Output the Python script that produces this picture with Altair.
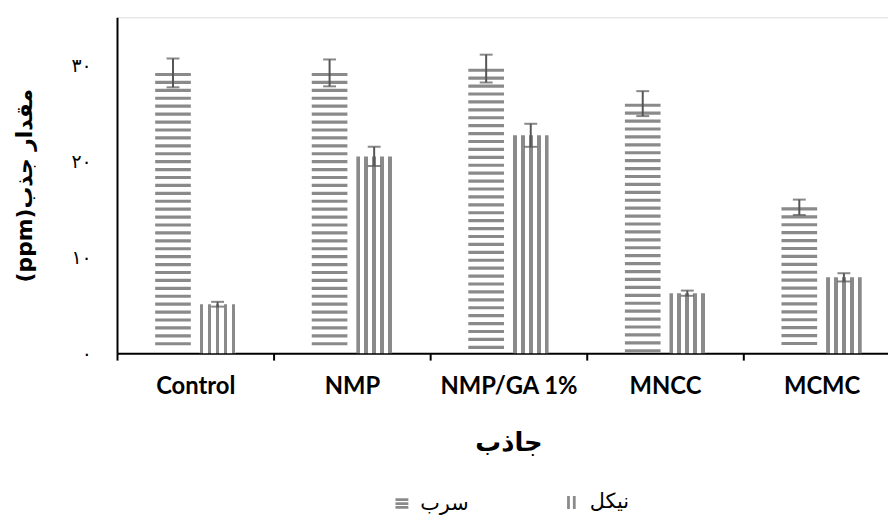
import altair as alt
import pandas as pd

# ---- data ----
categories = ["Control", "NMP", "NMP/GA 1%", "MNCC", "MCMC"]
series_names = ["سرب", "نیکل"]          # lead, nickel
lead_values = [29.2, 29.2, 29.65, 26.0, 15.2]
lead_errors = [1.5, 1.4, 1.45, 1.3, 0.8]
nickel_values = [5.1, 20.5, 22.7, 6.25, 7.9]
nickel_errors = [0.25, 1.0, 1.2, 0.27, 0.43]
y_tick_values = [0, 10, 20, 30]
y_tick_labels = ["۰", "۱۰", "۲۰", "۳۰"]
x_title = "جاذب"
y_title = "\u202Bمقدار جذب(ppm)\u202C"

rows = []
for i, c in enumerate(categories):
    rows.append({"cat": c, "series": series_names[0], "value": lead_values[i], "err": lead_errors[i]})
    rows.append({"cat": c, "series": series_names[1], "value": nickel_values[i], "err": nickel_errors[i]})
df = pd.DataFrame(rows)

STRIPE = "#8a8a8a"
ERR = "#555555"
PERSIAN = "DejaVu Sans"
LATIN = "Lato"

label_expr = " : ".join(
    [f"datum.value == {v} ? '{l}'" for v, l in zip(y_tick_values, y_tick_labels)]
) + " : ''"

x_enc = alt.X(
    "cat:N",
    sort=categories,
    scale=alt.Scale(paddingInner=0, paddingOuter=0, range=[0, 790]),
    axis=alt.Axis(
        title=x_title,
        labelAngle=0,
        labelFont=LATIN,
        labelFontWeight="bold",
        labelFontSize=24,
        labelColor="black",
        labelPadding=15,
        tickBand="extent",
        tickSize=7,
        tickColor="black",
        tickWidth=2,
        domainColor="black",
        domainWidth=2,
        titleFont=PERSIAN,
        titleFontSize=26,
        titleFontWeight="bold",
        titleColor="black",
        titlePadding=31,
        grid=False,
    ),
)
xoff_enc = alt.XOffset(
    "series:N",
    sort=series_names,
    scale=alt.Scale(domain=series_names, paddingInner=0.2, paddingOuter=0.856),
)
y_scale = alt.Scale(domain=[0, 35], nice=False)
y_axis = alt.Axis(
    title=y_title,
    values=y_tick_values,
    labelExpr=label_expr,
    labelFont=PERSIAN,
    labelFontSize=19,
    labelColor="black",
    labelPadding=26,
    ticks=False,
    tickSize=0,
    domainColor="black",
    domainWidth=2,
    grid=False,
    titleFont=PERSIAN,
    titleFontSize=22,
    titleFontWeight="bold",
    titleColor="black",
    titlePadding=35,
)

base = alt.Chart(df)

# lead: horizontal stripes generated from each bar's value
lead = (
    base.transform_filter(alt.datum.series == series_names[0])
    .transform_calculate(s="sequence(0, datum.value - 0.4, 0.825)")
    .transform_flatten(["s"])
    .transform_calculate(sy="datum.value - 0.17 - datum.s")
    .mark_tick(color=STRIPE, thickness=3.2, size=36, opacity=1)
    .encode(x=x_enc, xOffset=xoff_enc, y=alt.Y("sy:Q", scale=y_scale, axis=y_axis))
)

# nickel: vertical stripes via a hard-stop linear gradient
stops = []
for k in range(5):
    a = k * 0.2243
    b = a + 0.103
    stops += [
        {"offset": max(a - 0.0001, 0), "color": "white"},
        {"offset": a, "color": STRIPE},
        {"offset": min(b, 1), "color": STRIPE},
        {"offset": min(b + 0.0001, 1), "color": "white"},
    ]
grad = {"gradient": "linear", "x1": 0, "y1": 0, "x2": 1, "y2": 0, "stops": stops}

nickel = (
    base.transform_filter(alt.datum.series == series_names[1])
    .mark_bar(fill=grad, stroke=None)
    .encode(x=x_enc, xOffset=xoff_enc, y=alt.Y("value:Q", scale=y_scale, axis=y_axis))
)

errs = base.transform_calculate(lo="datum.value - datum.err", hi="datum.value + datum.err")
err_rule = errs.mark_rule(color=ERR, strokeWidth=2).encode(
    x=x_enc, xOffset=xoff_enc, y=alt.Y("lo:Q", scale=y_scale, axis=y_axis), y2="hi:Q"
)
cap_lo = errs.mark_tick(color=ERR, thickness=2, size=13).encode(
    x=x_enc, xOffset=xoff_enc, y=alt.Y("lo:Q", scale=y_scale, axis=y_axis)
)
cap_hi = errs.mark_tick(color=ERR, thickness=2, size=13).encode(
    x=x_enc, xOffset=xoff_enc, y=alt.Y("hi:Q", scale=y_scale, axis=y_axis)
)

legend_pts = base.mark_point(opacity=0).encode(
    x=x_enc,
    xOffset=xoff_enc,
    y=alt.Y("value:Q", scale=y_scale, axis=y_axis),
    shape=alt.Shape(
        "series:N",
        sort=series_names,
        scale=alt.Scale(
            domain=series_names,
            range=["M-1,-0.6H1M-1,0H1M-1,0.6H1", "M-0.45,-1V1M0.45,-1V1"],
        ),
        legend=alt.Legend(
            title=None,
            orient="none",
            direction="horizontal",
            legendX=277,
            legendY=479,
            symbolSize=169,
            symbolStrokeColor=STRIPE,
            symbolStrokeWidth=2.8,
            symbolFillColor="transparent",
            symbolOpacity=1,
            labelFont=PERSIAN,
            labelFontSize=21,
            labelColor="black",
            labelOffset=8,
            columnPadding=93,
        ),
    ),
)

chart = (
    alt.layer(lead, nickel, err_rule, cap_lo, cap_hi, legend_pts)
    .properties(
        width=778,
        height=339,
        autosize=alt.AutoSizeParams(type="none"),
        padding={"left": 110, "top": 7, "right": 0, "bottom": 163},
    )
    .configure_view(stroke=None)
    .configure(background="white")
)

chart.save("out.html", embed_options={"renderer": "svg", "actions": False})
